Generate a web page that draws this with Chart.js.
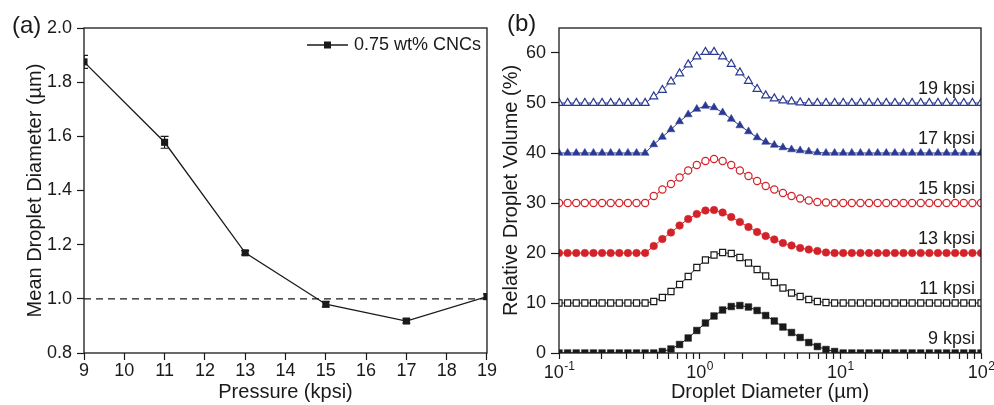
<!DOCTYPE html>
<html>
<head>
<meta charset="utf-8">
<script src="https://cdn.jsdelivr.net/npm/chart.js@4.4.0/dist/chart.umd.min.js"></script>
<style>
  body { margin: 0; background: #fff; }
  .panel { position: absolute; top: 0; width: 497px; height: 405px; }
  #panelA { left: 0; }
  #panelB { left: 497px; }
</style>
</head>
<body>
<div class="panel" id="panelA"><canvas id="chartA" width="497" height="405"></canvas></div>
<div class="panel" id="panelB"><canvas id="chartB" width="497" height="405"></canvas></div>
<script>
// (a) mean droplet diameter vs pressure
const pressures = [9, 11, 13, 15, 17, 19];
const meanDiameter = [1.875, 1.578, 1.17, 0.98, 0.918, 1.008];
const diameterError = [0.024, 0.022, 0.008, 0.01, 0.008, 0.01];
const refLevel = 1.0;
const seriesName = "0.75 wt% CNCs";

// (b) droplet size distributions (volume %, stacked by offset)
const dropletSize = [
  0.1, 0.1151, 0.1326, 0.1526, 0.1758, 0.2024, 0.233, 0.2683, 0.3089, 0.3557,
  0.4095, 0.4715, 0.5429, 0.6251, 0.7197, 0.8286, 0.9541, 1.099, 1.265, 1.456,
  1.677, 1.931, 2.223, 2.56, 2.947, 3.393, 3.907, 4.498, 5.18, 5.964,
  6.867, 7.906, 9.103, 10.48, 12.07, 13.9, 16.0, 18.42, 21.21, 24.42,
  28.12, 32.38, 37.28, 42.92, 49.42, 56.9, 65.51, 75.43, 86.85, 100
];
const vol9 = [
  0, 0, 0, 0, 0, 0, 0, 0, 0, 0,
  0, 0, 0.3, 0.8, 1.7, 3.0, 4.5, 6.0, 7.4, 8.6,
  9.3, 9.5, 9.2, 8.5, 7.5, 6.4, 5.2, 4.1, 3.1, 2.1,
  1.3, 0.7, 0.3, 0, 0, 0, 0, 0, 0, 0,
  0, 0, 0, 0, 0, 0, 0, 0, 0, 0
];
const vol11 = [
  0, 0, 0, 0, 0, 0, 0, 0, 0, 0,
  0, 0.3, 1.1, 2.3, 3.7, 5.3, 7.1, 8.6, 9.6, 10.1,
  9.9, 9.1, 8.0, 6.7, 5.4, 4.1, 3.0, 2.0, 1.3, 0.7,
  0.3, 0.1, 0, 0, 0, 0, 0, 0, 0, 0,
  0, 0, 0, 0, 0, 0, 0, 0, 0, 0
];
const vol13 = [
  0, 0, 0, 0, 0, 0, 0, 0, 0, 0,
  0, 1.4, 2.8, 4.1, 5.5, 6.8, 7.8, 8.5, 8.6, 8.1,
  7.2, 6.2, 5.2, 4.2, 3.4, 2.7, 2.0, 1.5, 1.0, 0.7,
  0.4, 0.1, 0, 0, 0, 0, 0, 0, 0, 0,
  0, 0, 0, 0, 0, 0, 0, 0, 0, 0
];
const vol15 = [
  0, 0, 0, 0, 0, 0, 0, 0, 0, 0,
  0, 1.4, 2.7, 3.8, 5.1, 6.5, 7.6, 8.4, 8.8, 8.4,
  7.6, 6.5, 5.4, 4.4, 3.4, 2.7, 2.0, 1.4, 0.9, 0.5,
  0.2, 0.1, 0, 0, 0, 0, 0, 0, 0, 0,
  0, 0, 0, 0, 0, 0, 0, 0, 0, 0
];
const vol17 = [
  0, 0, 0, 0, 0, 0, 0, 0, 0, 0,
  0, 1.7, 3.2, 4.7, 6.3, 7.7, 8.8, 9.4, 9.1, 8.1,
  6.8, 5.5, 4.3, 3.1, 2.2, 1.6, 1.1, 0.7, 0.5, 0.3,
  0.1, 0, 0, 0, 0, 0, 0, 0, 0, 0,
  0, 0, 0, 0, 0, 0, 0, 0, 0, 0
];
const vol19 = [
  0, 0, 0, 0, 0, 0, 0, 0, 0, 0,
  0, 1.3, 2.6, 4.3, 5.9, 7.7, 9.3, 10.2, 10.2, 9.3,
  7.8, 6.1, 4.4, 2.8, 1.5, 0.9, 0.5, 0.3, 0.1, 0,
  0, 0, 0, 0, 0, 0, 0, 0, 0, 0,
  0, 0, 0, 0, 0, 0, 0, 0, 0, 0
];
const curveOffsets = [0, 10, 20, 30, 40, 50];
const curveLabels = ["9 kpsi", "11 kpsi", "13 kpsi", "15 kpsi", "17 kpsi", "19 kpsi"];
const xDecades = [0.1, 1, 10, 100];
const xTickExponents = ["-1", "0", "1", "2"];

const FONT = '"Liberation Sans", Arial, Helvetica, sans-serif';
Chart.defaults.font.family = FONT;
Chart.defaults.color = "#1a1a1a";
Chart.defaults.animation = false;

const ink = "#1a1a1a";
const tickFont = { size: 18 };
const titleFont = { size: 20 };

// box around plot area
const frame = {
  id: "frame",
  afterDraw(chart) {
    const { ctx, chartArea: a } = chart;
    ctx.save();
    ctx.strokeStyle = ink;
    ctx.lineWidth = 1.3;
    ctx.strokeRect(a.left, a.top, a.right - a.left, a.bottom - a.top);
    ctx.restore();
  }
};

function panelTag(text, x, y) {
  return {
    id: "tag",
    afterDraw(chart) {
      const ctx = chart.ctx;
      ctx.save();
      ctx.font = "24px " + FONT;
      ctx.fillStyle = ink;
      ctx.textAlign = "left";
      ctx.textBaseline = "middle";
      ctx.fillText(text, x, y);
      ctx.restore();
    }
  };
}

// ERROR BARS (panel a)
const errorBars = {
  id: "errorBars",
  beforeDatasetsDraw(chart) {
    const { ctx, chartArea: a, scales: { x, y } } = chart;
    ctx.save();
    ctx.beginPath();
    ctx.rect(a.left, a.top, a.right - a.left, a.bottom - a.top);
    ctx.clip();
    ctx.strokeStyle = ink;
    ctx.lineWidth = 1.2;
    pressures.forEach((p, i) => {
      const px = x.getPixelForValue(p);
      const top = y.getPixelForValue(meanDiameter[i] + diameterError[i]);
      const bot = y.getPixelForValue(meanDiameter[i] - diameterError[i]);
      ctx.beginPath();
      ctx.moveTo(px, top); ctx.lineTo(px, bot);
      ctx.moveTo(px - 4, top); ctx.lineTo(px + 4, top);
      ctx.moveTo(px - 4, bot); ctx.lineTo(px + 4, bot);
      ctx.stroke();
    });
    ctx.restore();
  }
};

// legend inside panel a
const legendA = {
  id: "legendA",
  afterDraw(chart) {
    const { ctx, chartArea: a } = chart;
    const yy = a.top + 17;
    ctx.save();
    ctx.strokeStyle = ink;
    ctx.fillStyle = ink;
    ctx.lineWidth = 1.3;
    ctx.beginPath();
    ctx.moveTo(a.right - 180, yy);
    ctx.lineTo(a.right - 139, yy);
    ctx.stroke();
    ctx.fillRect(a.right - 163, yy - 3.5, 7, 7);
    ctx.font = "18px " + FONT;
    ctx.textAlign = "left";
    ctx.textBaseline = "middle";
    ctx.fillText(seriesName, a.right - 133, yy);
    ctx.restore();
  }
};

// curve names on panel b
const curveText = {
  id: "curveText",
  afterDatasetsDraw(chart) {
    const { ctx, chartArea: a, scales: { y } } = chart;
    ctx.save();
    ctx.font = "18px " + FONT;
    ctx.fillStyle = ink;
    ctx.textAlign = "right";
    ctx.textBaseline = "middle";
    curveLabels.forEach((t, i) => {
      ctx.fillText(t, a.right - 6, y.getPixelForValue(curveOffsets[i] + 2.8));
    });
    ctx.restore();
  }
};

// 10^n labels under the log axis
const powerLabels = {
  id: "powerLabels",
  afterDraw(chart) {
    const { ctx, chartArea: a, scales: { x } } = chart;
    ctx.save();
    ctx.fillStyle = ink;
    ctx.textAlign = "left";
    ctx.textBaseline = "alphabetic";
    xDecades.forEach((d, i) => {
      const px = x.getPixelForValue(d);
      ctx.font = "18px " + FONT;
      const wBase = ctx.measureText("10").width;
      ctx.font = "12px " + FONT;
      const wExp = ctx.measureText(xTickExponents[i]).width;
      const x0 = px - (wBase + wExp) / 2;
      ctx.font = "18px " + FONT;
      ctx.fillText("10", x0, a.bottom + 24.5);
      ctx.font = "12px " + FONT;
      ctx.fillText(xTickExponents[i], x0 + wBase + 0.5, a.bottom + 17);
    });
    ctx.restore();
  }
};

const tickGrid = (len) => ({
  drawOnChartArea: false,
  drawTicks: true,
  tickLength: len,
  tickColor: ink,
  tickWidth: 1.2
});

// PANEL (a)
new Chart(document.getElementById("chartA"), {
  type: "line",
  data: {
    datasets: [
      {
        label: seriesName,
        data: pressures.map((p, i) => ({ x: p, y: meanDiameter[i] })),
        borderColor: ink,
        borderWidth: 1.3,
        pointStyle: "rect",
        pointRadius: 5,
        pointBackgroundColor: ink,
        pointBorderColor: ink,
        pointBorderWidth: 0
      },
      {
        label: "reference",
        data: [{ x: 9, y: refLevel }, { x: 19, y: refLevel }],
        borderColor: ink,
        borderWidth: 1.3,
        borderDash: [7, 5],
        pointRadius: 0
      }
    ]
  },
  options: {
    responsive: false,
    layout: { padding: { top: 28, right: 10, bottom: 0, left: 0 } },
    plugins: { legend: { display: false }, tooltip: { enabled: false } },
    scales: {
      x: {
        type: "linear",
        min: 9,
        max: 19,
        afterFit: (s) => { s.height = 52; },
        ticks: { stepSize: 1, font: tickFont, padding: 0, autoSkip: false, maxRotation: 0 },
        grid: tickGrid(7),
        border: { display: false },
        title: { display: true, text: "Pressure (kpsi)", font: titleFont, padding: { bottom: 1 } }
      },
      y: {
        min: 0.8,
        max: 2.0,
        afterFit: (s) => { s.width = 84; },
        ticks: { stepSize: 0.2, font: tickFont, padding: 5, callback: (v) => Number(v).toFixed(1) },
        grid: tickGrid(7),
        border: { display: false },
        title: { display: true, text: "Mean Droplet Diameter (\u00B5m)", font: titleFont, padding: { top: 23 } }
      }
    }
  },
  plugins: [errorBars, frame, legendA, panelTag("(a)", 12, 26)]
});

// PANEL (b)
const curves = [vol9, vol11, vol13, vol15, vol17, vol19];
const curveColors = ["#1a1a1a", "#1a1a1a", "#d2232a", "#d2232a", "#2a3992", "#2a3992"];
const curveShapes = ["rect", "rect", "circle", "circle", "triangle", "triangle"];
const curveFilled = [true, false, true, false, true, false];
const curveRadius = [4.7, 4.3, 3.8, 3.6, 4.6, 4.6];

new Chart(document.getElementById("chartB"), {
  type: "line",
  data: {
    datasets: curves.map((c, i) => ({
      label: curveLabels[i],
      data: dropletSize.map((d, j) => ({ x: d, y: c[j] + curveOffsets[i] })),
      borderColor: curveColors[i],
      borderWidth: 1,
      pointStyle: curveShapes[i],
      pointRadius: curveRadius[i],
      pointBackgroundColor: curveFilled[i] ? curveColors[i] : "#fff",
      pointBorderColor: curveColors[i],
      pointBorderWidth: curveFilled[i] ? 0.5 : 1.2
    }))
  },
  options: {
    responsive: false,
    layout: { padding: { top: 28, right: 13, bottom: 0, left: 0 } },
    plugins: { legend: { display: false }, tooltip: { enabled: false } },
    scales: {
      x: {
        type: "logarithmic",
        min: 0.1,
        max: 100,
        afterFit: (s) => { s.height = 52; },
        ticks: { font: tickFont, padding: 1, autoSkip: false, maxRotation: 0, callback: () => "" },
        grid: tickGrid(6),
        border: { display: false },
        title: { display: true, text: "Droplet Diameter (\u00B5m)", font: titleFont, padding: { bottom: 1 } }
      },
      y: {
        min: 0,
        max: 65,
        afterFit: (s) => { s.width = 62; },
        ticks: { stepSize: 10, includeBounds: false, font: tickFont, padding: 5 },
        grid: tickGrid(8),
        border: { display: false },
        title: { display: true, text: "Relative Droplet Volume (%)", font: titleFont, padding: { top: 2 } }
      }
    }
  },
  plugins: [frame, curveText, powerLabels, panelTag("(b)", 10, 24)]
});
</script>
</body>
</html>
